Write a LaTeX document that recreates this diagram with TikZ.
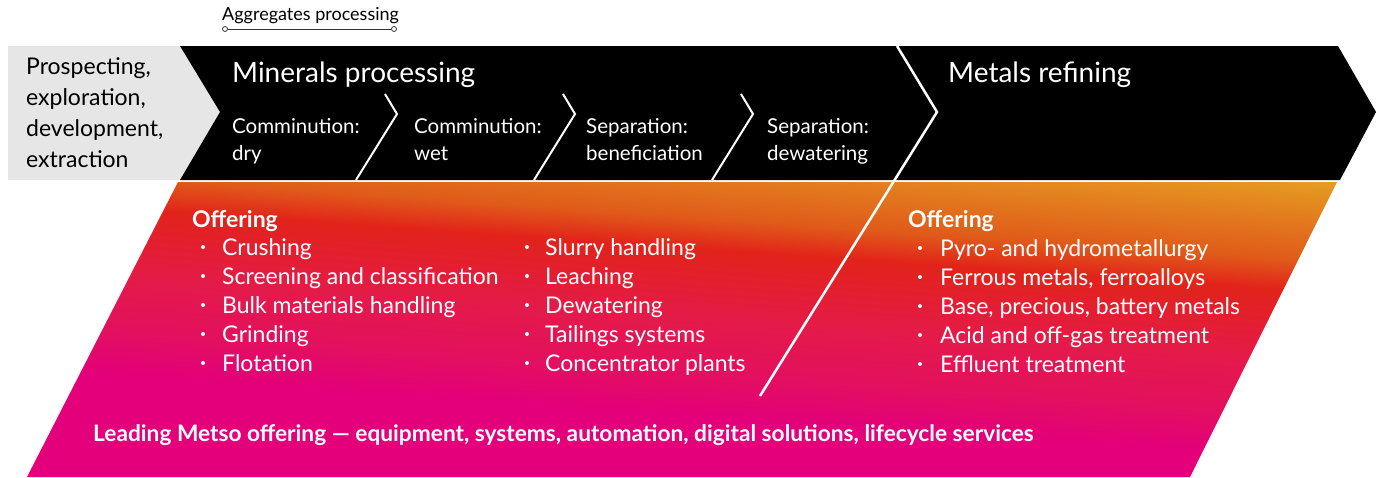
\documentclass[tikz,border=0pt]{standalone}
\usepackage{fontspec}
\setmainfont{Lato}
\usetikzlibrary{positioning}

\definecolor{stagegrey}{HTML}{E6E6E6}
\definecolor{aggline}{HTML}{333333}
\definecolor{offyellow}{HTML}{E5A322}
\definecolor{offorange}{HTML}{E37A1E}
\definecolor{offredorange}{HTML}{E05A1A}
\definecolor{offred}{HTML}{E2231A}
\definecolor{offcrimson}{HTML}{E41A4A}
\definecolor{offpink}{HTML}{E3105E}
\definecolor{offmagenta}{HTML}{E3007A}

% path shadings use the middle 25bp--75bp of the shading
\pgfdeclareverticalshading{offering}{100bp}{color(0bp)=(offmagenta); color(38.7bp)=(offmagenta);
  color(44bp)=(offpink); color(50bp)=(offcrimson); color(58.5bp)=(offred); color(62.1bp)=(offredorange);
  color(66.9bp)=(offorange); color(72.6bp)=(offyellow); color(100bp)=(offyellow)}

\newcommand\aggfnt{\fontsize{18}{21}\selectfont}
\newcommand\prospfnt{\fontsize{23}{27}\selectfont}
\newcommand\headfnt{\fontsize{28}{33}\selectfont}
\newcommand\stepfnt{\fontsize{20.5}{24}\selectfont}
\newcommand\offerfnt{\fontsize{23}{27}\selectfont}
\newcommand\leadfnt{\fontsize{22.7}{27}\selectfont\bfseries}

\begin{document}
\begin{tikzpicture}[x=1pt,y=-1pt,
    every node/.style={inner sep=0pt},
    wtext/.style={anchor=base west,text=white},
    listtext/.style={wtext,font=\offerfnt},
    steptext/.style={wtext,font=\stepfnt},
    bulletdot/.style={circle,fill=white,minimum size=4pt},
    aggend/.style={circle,draw=aggline,line width=0.8pt,minimum size=5pt}]

  \useasboundingbox (0,0) rectangle (1381,477);

  % value chain banner
  \fill[stagegrey] (8,46) -- (180,46) -- (220,112) -- (180,180) -- (8,180) -- cycle;
  \fill[black] (180,46) -- (1338,46) -- (1376,112) -- (1340,180) -- (180,180) -- (220,112) -- cycle;

  % offering band
  \begin{scope}
    \clip (178,182) -- (1337,182) -- (1190,477) -- (27,477) -- cycle;
    \begin{scope}[transform canvas={rotate around={-4:(700,330)}}]
      \shade[shading=offering] (-100,110) rectangle (1500,530);
    \end{scope}
  \end{scope}

  % separators
  \draw[white,line width=2.5pt] (897,46) -- (937,112) -- (760,396);
  \foreach \dx in {0,178,356}
    \draw[white,line width=2pt] (385+\dx,94) -- (397+\dx,114) -- (356+\dx,180);

  % aggregates
  \node[anchor=base west,font=\aggfnt] (agg) at (222,20) {Aggregates processing};
  \node[aggend] (aggL) at (225,29) {};
  \node[aggend] (aggR) at (394,29) {};
  \draw[aggline,line width=0.8pt] (aggL) -- (aggR);

  % stages
  \foreach \txt [count=\i] in {Prospecting{,},exploration{,},development{,},extraction}
    \node[anchor=base west,font=\prospfnt] (prosp\i) at (26,43+31*\i) {\txt};

  \node[wtext,font=\headfnt] (minerals) at (232,82) {Minerals processing};
  \node[wtext,font=\headfnt] (metals) at (948,82) {Metals refining};

  \node[steptext] (dry1) at (232,133) {Comminution:};
  \node[steptext] (dry2) at (232,160) {dry};
  \node[steptext] (wet1) at (414,133) {Comminution:};
  \node[steptext] (wet2) at (414,160) {wet};
  \node[steptext] (ben1) at (586,133) {Separation:};
  \node[steptext] (ben2) at (586,160) {beneficiation};
  \node[steptext] (dew1) at (767,133) {Separation:};
  \node[steptext] (dew2) at (767,160) {dewatering};

  % offering lists
  \node[listtext,font=\offerfnt\bfseries] (offerL) at (192,227) {Offering};
  \node[listtext,font=\offerfnt\bfseries] (offerR) at (908,227) {Offering};

  \foreach \txt [count=\i] in {Crushing,Screening and classification,Bulk materials handling,Grinding,Flotation}{
    \node[listtext] (ml\i) at (222,226+29*\i) {\txt};
    \node[bulletdot] (mlb\i) at ([shift={(-19pt,8pt)}]ml\i.base west) {};
  }
  \foreach \txt [count=\i] in {Slurry handling,Leaching,Dewatering,Tailings systems,Concentrator plants}{
    \node[listtext] (mr\i) at (545,226+29*\i) {\txt};
    \node[bulletdot] (mrb\i) at ([shift={(-18pt,8pt)}]mr\i.base west) {};
  }
  \foreach \txt [count=\i] in {Pyro- and hydrometallurgy,{Ferrous metals, ferroalloys},{Base, precious, battery metals},Acid and off-gas treatment,Effluent treatment}{
    \node[listtext] (rl\i) at (940,227+29*\i) {\txt};
    \node[bulletdot] (rlb\i) at ([shift={(-20pt,8pt)}]rl\i.base west) {};
  }

  \node[wtext,font=\leadfnt] (leading) at (93,441)
    {Leading Metso offering — equipment, systems, automation, digital solutions, lifecycle services};

\end{tikzpicture}
\end{document}
